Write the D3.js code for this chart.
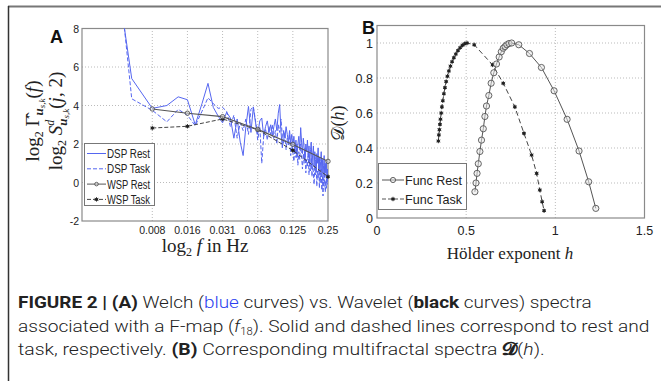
<!DOCTYPE html>
<html>
<head>
<meta charset="utf-8">
<script src="https://cdn.jsdelivr.net/npm/d3@7"></script>
<style>
  body { margin: 0; background: #fff; }
  svg { display: block; }
</style>
</head>
<body>
<svg id="fig" width="661" height="381"></svg>
<script>
// Panel A: Welch spectra, one value per frequency bin k/384 Hz, k = 1..96
const dspRest = [18, 5.4, 3.85, 4.0, 4.45, 4.3, 3.0, 4.1, 5.15, 3.9,
  3.45, 3.1, 3.65, 3.35, 2.3, 3.3, 2.1, 1.4, 2.9, 3.95,
  2.6, 3.9, 3.1, 2.5, 3.2, 3.35, 2.4, 2.9, 3.2, 2.6,
  3.0, 2.4, 2.9, 3.3, 2.7, 3.6, 4.05, 2.6, 1.8, 2.7,
  2.3, 2.9, 2.5, 2.1, 2.7, 2.0, 2.5, 1.9, 2.4, 1.6,
  2.2, 1.3, 2.0, 2.4, 1.7, 2.85, 2.1, 1.5, 2.3, 1.8,
  1.1, 2.0, 1.6, 2.2, 1.3, 1.9, 1.0, 1.7, 2.1, 0.9,
  1.5, 1.9, 0.8, 1.6, 1.2, 0.6, 1.5, 1.0, 1.8, 0.7,
  1.3, 0.4, 1.1, 1.6, 0.5, 1.2, 0.2, 0.9, 1.4, 0.3,
  1.0, 0.5, 1.1, 0.1, 0.7, 0.4];
const dspTask = [22, 4.35, 3.75, 3.15, 3.8, 3.5, 2.95, 3.7, 4.4, 4.1,
  3.85, 3.9, 3.7, 2.9, 3.5, 2.3, 3.1, 2.7, 3.3, 2.5,
  3.8, 3.95, 3.2, 2.2, 2.9, 1.0, 2.4, 2.8, 2.2, 2.9,
  2.5, 3.0, 2.3, 2.7, 2.0, 3.0, 2.6, 3.3, 2.4, 2.0,
  2.6, 1.7, 2.3, 1.9, 2.5, 1.4, 2.1, 1.6, 1.1, 1.9,
  1.3, 2.0, 0.9, 1.6, 1.2, 2.0, 1.4, 0.7, 1.5, 1.0,
  1.8, 0.5, 1.2, 0.8, 1.5, 0.4, 1.1, 0.6, 1.3, 0.3,
  1.0, 0.5, -0.1, 0.9, 0.4, 1.1, -0.2, 0.6, 0.2, 0.9,
  -0.3, 0.5, 0.0, 0.7, -0.4, 0.3, -0.7, 0.2, -0.2, 0.5,
  -0.5, 0.1, -0.3, 0.4, -0.1, 0.0];
const dspFreqs = d3.range(1, 97).map(k => k / 384);

// Wavelet spectra, one value per octave
const wspFreqs = [2 ** -7, 2 ** -6, 2 ** -5, 2 ** -4, 2 ** -3, 2 ** -2];
const wspRest = [3.82, 3.6, 3.42, 2.76, 1.98, 1.1];
const wspTask = [2.83, 2.92, 3.3, 2.74, 1.67, 0.3];

const xTicksA = [2 ** -7, 2 ** -6, 2 ** -5, 2 ** -4, 2 ** -3, 2 ** -2];
const xTickLabelsA = ["0.008", "0.016", "0.031", "0.063", "0.125", "0.25"];
const yTicksA = [-2, 0, 2, 4, 6, 8];

// Panel B: multifractal spectra D(h)
const funcRest = [[0.549, 0.15], [0.555, 0.20], [0.561, 0.255], [0.568, 0.31],
  [0.577, 0.38], [0.586, 0.445], [0.596, 0.51], [0.605, 0.58], [0.614, 0.64],
  [0.627, 0.70], [0.640, 0.77], [0.655, 0.83], [0.670, 0.88], [0.685, 0.92],
  [0.697, 0.95], [0.708, 0.97], [0.718, 0.98], [0.728, 0.99], [0.740, 0.997],
  [0.755, 1.0], [0.795, 0.99], [0.855, 0.94], [0.922, 0.86], [0.993, 0.727],
  [1.066, 0.564], [1.133, 0.383], [1.187, 0.207], [1.227, 0.055]];
const funcTask = [[0.344, 0.44], [0.347, 0.475], [0.350, 0.505], [0.353, 0.535],
  [0.356, 0.565], [0.360, 0.60], [0.364, 0.635], [0.369, 0.67], [0.375, 0.71],
  [0.381, 0.745], [0.388, 0.78], [0.395, 0.81], [0.403, 0.84], [0.412, 0.868],
  [0.421, 0.893], [0.431, 0.916], [0.442, 0.937], [0.454, 0.957], [0.466, 0.973],
  [0.479, 0.987], [0.492, 0.996], [0.505, 1.0], [0.545, 0.99], [0.648, 0.875],
  [0.708, 0.77], [0.773, 0.635], [0.824, 0.484], [0.867, 0.36], [0.895, 0.255],
  [0.913, 0.16], [0.926, 0.093], [0.937, 0.042]];

const xTicksB = [0, 0.5, 1, 1.5];
const yTicksB = [0, 0.2, 0.4, 0.6, 0.8, 1];

const blue = "#5566f0";
const tickFont = "Liberation Sans, Arial, sans-serif";
const serif = "Liberation Serif, 'DejaVu Serif', serif";

const svg = d3.select("#fig");
svg.append("rect").attr("width", 661).attr("height", 381).attr("fill", "#fff");

// Frame of the figure
svg.append("line").attr("x1", 8).attr("x2", 661).attr("y1", 6.5).attr("y2", 6.5)
  .attr("stroke", "#777").attr("stroke-width", 2);
svg.append("line").attr("x1", 8.5).attr("x2", 8.5).attr("y1", 6).attr("y2", 381)
  .attr("stroke", "#333").attr("stroke-width", 1.5);

// ---------- Panel A ----------
const xA = d3.scaleLog().base(2).domain([2 ** -9, 2 ** -2]).range([82, 328]);
const yA = d3.scaleLinear().domain([-2, 8]).range([221, 28.5]);

svg.append("defs").append("clipPath").attr("id", "clipA")
  .append("rect").attr("x", 82).attr("y", 28.5).attr("width", 246).attr("height", 192.5);

const gA = svg.append("g");

// Grid
gA.selectAll(".gx").data(xTicksA.slice(0, -1)).join("line")
  .attr("x1", d => xA(d)).attr("x2", d => xA(d)).attr("y1", yA(-2)).attr("y2", yA(8))
  .attr("stroke", "#bbb").attr("stroke-dasharray", "1,2");
gA.selectAll(".gy").data(yTicksA.slice(1, -1)).join("line")
  .attr("x1", xA.range()[0]).attr("x2", xA.range()[1]).attr("y1", d => yA(d)).attr("y2", d => yA(d))
  .attr("stroke", "#bbb").attr("stroke-dasharray", "1,2");

// Axes box
gA.append("rect").attr("x", 82).attr("y", 28.5).attr("width", 246).attr("height", 192.5)
  .attr("fill", "none").attr("stroke", "#8a8a8a").attr("stroke-width", 1.2);

// Ticks and labels
gA.selectAll(".tx").data(xTicksA).join("text")
  .attr("x", d => xA(d)).attr("y", 234).attr("text-anchor", "middle")
  .attr("font-family", tickFont).attr("font-size", 10.5).attr("fill", "#222")
  .text((d, i) => xTickLabelsA[i]);
gA.selectAll(".ty").data(yTicksA).join("text")
  .attr("x", 79).attr("y", d => yA(d) + 4).attr("text-anchor", "end")
  .attr("font-family", tickFont).attr("font-size", 10.5).attr("fill", "#222")
  .text(d => d);

// Welch curves
const dspLine = d3.line().x(d => xA(d[0])).y(d => yA(d[1]));
const plotA = gA.append("g").attr("clip-path", "url(#clipA)");
plotA.append("path").datum(dspFreqs.map((f, i) => [f, dspTask[i]]))
  .attr("d", dspLine).attr("fill", "none").attr("stroke", blue)
  .attr("stroke-width", 1).attr("stroke-dasharray", "4,2");
plotA.append("path").datum(dspFreqs.map((f, i) => [f, dspRest[i]]))
  .attr("d", dspLine).attr("fill", "none").attr("stroke", blue).attr("stroke-width", 1);

// Wavelet curves
const restA = wspFreqs.map((f, i) => [f, wspRest[i]]);
const taskA = wspFreqs.map((f, i) => [f, wspTask[i]]);
plotA.append("path").datum(taskA).attr("d", dspLine).attr("fill", "none")
  .attr("stroke", "#444").attr("stroke-width", 1).attr("stroke-dasharray", "4,2");
plotA.append("path").datum(restA).attr("d", dspLine).attr("fill", "none")
  .attr("stroke", "#555").attr("stroke-width", 1.1);

const star = d3.symbol().type(d3.symbolAsterisk).size(14);
function starMarks(g, pts, x, y) {
  g.selectAll(null).data(pts).join("circle")
    .attr("cx", d => x(d[0])).attr("cy", d => y(d[1])).attr("r", 1.6).attr("fill", "#222");
  g.selectAll(null).data(pts).join("path")
    .attr("transform", d => `translate(${x(d[0])},${y(d[1])})`)
    .attr("d", star).attr("fill", "none").attr("stroke", "#222").attr("stroke-width", 0.8);
}
function circleMarks(g, pts, x, y, r) {
  g.selectAll(null).data(pts).join("circle")
    .attr("cx", d => x(d[0])).attr("cy", d => y(d[1])).attr("r", r)
    .attr("fill", "#e6e6e6").attr("fill-opacity", 0.5).attr("stroke", "#555").attr("stroke-width", 0.9);
}
starMarks(gA.append("g"), taskA, xA, yA);
circleMarks(gA.append("g"), restA, xA, yA, 2.2);

// Legend A
const legA = gA.append("g");
legA.append("rect").attr("x", 84.5).attr("y", 143.5).attr("width", 70).attr("height", 62)
  .attr("fill", "#fff").attr("stroke", "#777");
const legItemsA = [
  { label: "DSP Rest", color: blue, dash: null, mark: null },
  { label: "DSP Task", color: blue, dash: "4,2", mark: null },
  { label: "WSP Rest", color: "#555", dash: null, mark: "circle" },
  { label: "WSP Task", color: "#444", dash: "4,2", mark: "star" }
];
legItemsA.forEach((it, i) => {
  const y = 153.5 + i * 15.3;
  legA.append("line").attr("x1", 87).attr("x2", 106).attr("y1", y).attr("y2", y)
    .attr("stroke", it.color).attr("stroke-width", 1).attr("stroke-dasharray", it.dash);
  if (it.mark === "circle") circleMarks(legA.append("g"), [[96.5, y]], d => d, d => d, 1.8);
  if (it.mark === "star") starMarks(legA.append("g"), [[96.5, y]], d => d, d => d);
  legA.append("text").attr("x", 107).attr("y", y + 4.5)
    .attr("font-family", tickFont).attr("font-size", 12).attr("fill", "#222")
    .attr("textLength", 43).attr("lengthAdjust", "spacingAndGlyphs")
    .text(it.label);
});

// Axis titles A
gA.append("text").attr("x", 205).attr("y", 252).attr("text-anchor", "middle")
  .attr("font-family", serif).attr("font-size", 19).attr("fill", "#222")
  .call(t => {
    t.append("tspan").text("log");
    t.append("tspan").attr("font-size", 12).attr("dy", 4).text("2");
    t.append("tspan").attr("dy", -4).attr("font-style", "italic").text(" f");
    t.append("tspan").text(" in Hz");
  });

function yLabelA(x, build) {
  gA.append("text").attr("transform", `translate(${x},121) rotate(-90)`)
    .attr("text-anchor", "middle").attr("font-family", serif).attr("font-size", 19)
    .attr("fill", "#222").call(build);
}
yLabelA(39, t => {
  t.append("tspan").text("log");
  t.append("tspan").attr("font-size", 12).attr("dy", 4).text("2");
  t.append("tspan").attr("dy", -4).text(" \u0393\u0302");
  t.append("tspan").attr("font-size", 13).attr("dy", 4).attr("font-weight", "bold").attr("font-style", "italic").text("u");
  t.append("tspan").attr("font-size", 9).attr("dy", 2).attr("font-style", "italic").text("s,k");
  t.append("tspan").attr("dy", -6).text("(");
  t.append("tspan").attr("font-style", "italic").text("f");
  t.append("tspan").text(")");
});
yLabelA(62, t => {
  t.append("tspan").text("log");
  t.append("tspan").attr("font-size", 12).attr("dy", 4).text("2");
  t.append("tspan").attr("dy", -4).attr("font-style", "italic").text(" S");
  t.append("tspan").attr("font-size", 12).attr("dy", -8).attr("font-style", "italic").text("d");
  t.append("tspan").attr("font-size", 13).attr("dx", -6).attr("dy", 13).attr("font-weight", "bold").attr("font-style", "italic").text("u");
  t.append("tspan").attr("font-size", 9).attr("dy", 2).attr("font-style", "italic").text("s,k");
  t.append("tspan").attr("dy", -7).text("(");
  t.append("tspan").attr("font-style", "italic").text("j");
  t.append("tspan").text(", 2)");
});

svg.append("text").attr("x", 50).attr("y", 43).attr("font-family", tickFont)
  .attr("font-weight", "bold").attr("font-size", 18).attr("fill", "#111").text("A");

// ---------- Panel B ----------
const xB = d3.scaleLinear().domain([0, 1.5]).range([377, 644.5]);
const yB = d3.scaleLinear().domain([0, 1.1]).range([218, 25.5]);
const gB = svg.append("g");

gB.selectAll(".gx").data(xTicksB.slice(1, -1)).join("line")
  .attr("x1", d => xB(d)).attr("x2", d => xB(d)).attr("y1", yB(0)).attr("y2", yB(1.1))
  .attr("stroke", "#bbb").attr("stroke-dasharray", "1,2");
gB.selectAll(".gy").data(yTicksB.slice(1)).join("line")
  .attr("x1", xB(0)).attr("x2", xB(1.5)).attr("y1", d => yB(d)).attr("y2", d => yB(d))
  .attr("stroke", "#bbb").attr("stroke-dasharray", "1,2");
gB.append("rect").attr("x", 377).attr("y", 25.5).attr("width", 267.5).attr("height", 192.5)
  .attr("fill", "none").attr("stroke", "#8a8a8a").attr("stroke-width", 1.2);

gB.selectAll(".tx").data(xTicksB).join("text")
  .attr("x", d => xB(d)).attr("y", 234.5).attr("text-anchor", "middle")
  .attr("font-family", tickFont).attr("font-size", 12.5).attr("fill", "#222")
  .text(d => d);
gB.selectAll(".ty").data(yTicksB).join("text")
  .attr("x", 373).attr("y", d => yB(d) + 4.5).attr("text-anchor", "end")
  .attr("font-family", tickFont).attr("font-size", 12.5).attr("fill", "#222")
  .text(d => d);

const lineB = d3.line().x(d => xB(d[0])).y(d => yB(d[1]));
gB.append("path").datum(funcTask).attr("d", lineB).attr("fill", "none")
  .attr("stroke", "#444").attr("stroke-width", 1).attr("stroke-dasharray", "5,3");
gB.append("path").datum(funcRest).attr("d", lineB).attr("fill", "none")
  .attr("stroke", "#555").attr("stroke-width", 1);
starMarks(gB.append("g"), funcTask, xB, yB);
circleMarks(gB.append("g"), funcRest, xB, yB, 3.1);

// Legend B
const legB = gB.append("g");
legB.append("rect").attr("x", 378.5).attr("y", 163.5).attr("width", 88).attr("height", 46)
  .attr("fill", "#fff").attr("stroke", "#777");
[{ label: "Func Rest", dash: null, mark: "circle" },
 { label: "Func Task", dash: "4,2", mark: "star" }].forEach((it, i) => {
  const y = 180 + i * 19;
  legB.append("line").attr("x1", 382).attr("x2", 404).attr("y1", y).attr("y2", y)
    .attr("stroke", "#555").attr("stroke-dasharray", it.dash);
  if (it.mark === "circle") circleMarks(legB.append("g"), [[393, y]], d => d, d => d, 2.6);
  else starMarks(legB.append("g"), [[393, y]], d => d, d => d);
  legB.append("text").attr("x", 405).attr("y", y + 5)
    .attr("font-family", tickFont).attr("font-size", 13.5).attr("fill", "#222")
    .attr("textLength", 57).attr("lengthAdjust", "spacingAndGlyphs")
    .text(it.label);
});

gB.append("text").attr("x", 510).attr("y", 259).attr("text-anchor", "middle")
  .attr("font-family", serif).attr("font-size", 17).attr("fill", "#222")
  .call(t => {
    t.append("tspan").text("H\u00f6lder exponent ");
    t.append("tspan").attr("font-style", "italic").text("h");
  });
gB.append("text").attr("transform", "translate(344,123) rotate(-90)")
  .attr("text-anchor", "middle").attr("font-family", serif).attr("font-size", 18).attr("fill", "#222")
  .call(t => {
    t.append("tspan").text("\uD835\uDC9F(");
    t.append("tspan").attr("font-style", "italic").text("h");
    t.append("tspan").text(")");
  });

svg.append("text").attr("x", 362).attr("y", 34).attr("font-family", tickFont)
  .attr("font-weight", "bold").attr("font-size", 18).attr("fill", "#111").text("B");

// ---------- Caption ----------
const capFont = "Roboto, 'Liberation Sans', sans-serif";
const capLines = [
  { y: 308, width: 574, parts: [
    { t: "FIGURE 2 | (A)", w: "bold" }, { t: " Welch (" }, { t: "blue", c: "#2b3ff0" },
    { t: " curves) vs. Wavelet (" }, { t: "black", w: "bold" }, { t: " curves) spectra" }] },
  { y: 332, width: 632, parts: [
    { t: "associated with a F-map (" }, { t: "f", s: "italic" }, { t: "18", sub: true },
    { t: "). Solid and dashed lines correspond to rest and" }] },
  { y: 355, width: 527, parts: [
    { t: "task, respectively. " }, { t: "(B)", w: "bold" }, { t: " Corresponding multifractal spectra " },
    { t: "\uD835\uDCD3", w: "bold" }, { t: "(" }, { t: "h", s: "italic" }, { t: ")." }] }
];
capLines.forEach(line => {
  const txt = svg.append("text").attr("font-family", capFont).attr("font-size", 17)
    .attr("font-weight", 300).attr("fill", "#222").attr("xml:space", "preserve");
  line.parts.forEach((p, idx) => {
    const ts = txt.append("tspan").text(p.t);
    if (p.w) ts.attr("font-weight", p.w);
    if (p.s) ts.attr("font-style", p.s);
    if (p.c) ts.attr("fill", p.c);
    if (p.sub) ts.attr("font-size", 10).attr("dy", 3);
    if (idx > 0 && line.parts[idx - 1].sub) ts.attr("dy", -3);
  });
  const w = txt.node().getComputedTextLength();
  txt.attr("transform", `translate(18,${line.y}) scale(${line.width / w},1)`);
});
</script>
</body>
</html>
